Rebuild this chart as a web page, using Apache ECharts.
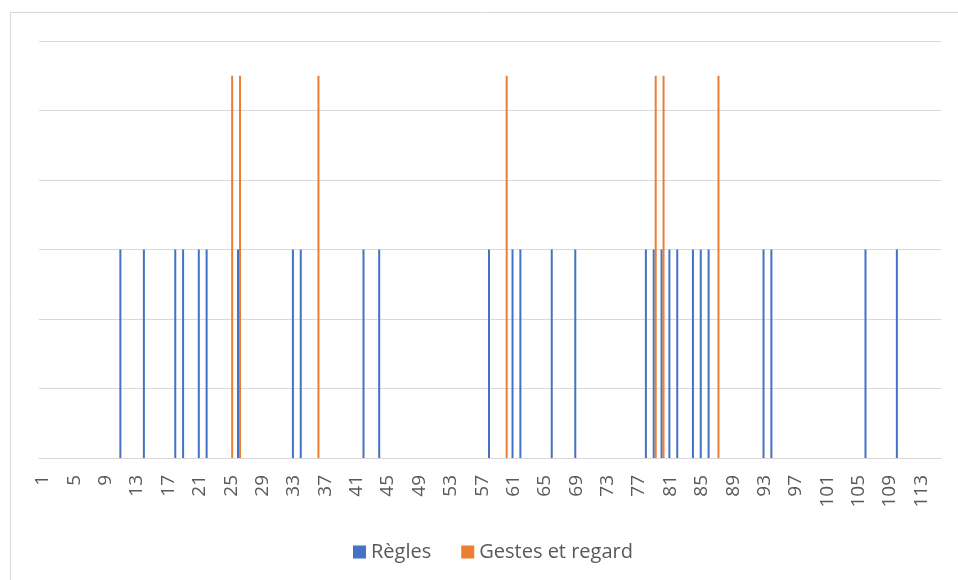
<!DOCTYPE html>
<html>
<head>
<meta charset="utf-8">
<script src="https://cdn.jsdelivr.net/npm/echarts@6/dist/echarts.min.js"></script>
<style>
  html, body { margin: 0; padding: 0; background: #fff; }
  #chart { width: 958px; height: 580px; }
</style>
</head>
<body>
<div id="chart"></div>
<script>
// séquence 1..115
var categories = [];
for (var i = 1; i <= 115; i++) categories.push(String(i));

var reglesPos = [11, 14, 18, 19, 21, 22, 26, 33, 34, 42, 44, 58, 61, 62, 66, 69,
                 78, 79, 80, 81, 82, 84, 85, 86, 93, 94, 106, 110];
var reglesVal = [3, 3, 3, 3, 3, 3, 3, 3, 3, 3, 3, 3, 3, 3, 3, 3,
                 3, 3, 3, 3, 3, 3, 3, 3, 3, 3, 3, 3];
var gestesPos = [25, 26, 36, 60, 79, 80, 87];
var gestesVal = [5.5, 5.5, 5.5, 5.5, 5.5, 5.5, 5.5];

function toSeries(pos, val) {
  var d = categories.map(function () { return null; });
  pos.forEach(function (p, k) { d[p - 1] = val[k]; });
  return d;
}

var dom = document.getElementById('chart');
var myChart = echarts.init(dom, null, { renderer: 'canvas' });

var option = {
  animation: false,
  backgroundColor: '#fff',
  graphic: [{
    type: 'rect',
    shape: { x: 10.5, y: 12.5, width: 1000, height: 1000 },
    style: { fill: 'none', stroke: '#d9d9d9', lineWidth: 1 },
    silent: true
  }],
  grid: { left: 39, right: 17, top: 41, bottom: 122 },
  legend: {
    data: ['Règles', 'Gestes et regard'],
    left: 348,
    top: 537,
    icon: 'rect',
    itemWidth: 13,
    itemHeight: 13,
    itemGap: 30,
    textStyle: { color: '#595959', fontSize: 20, fontFamily: 'Open Sans' }
  },
  xAxis: {
    type: 'category',
    data: categories,
    axisLine: { lineStyle: { color: '#d9d9d9', width: 1 } },
    axisTick: { show: false },
    axisLabel: {
      interval: 3,
      rotate: 90,
      margin: 17,
      color: '#595959',
      fontSize: 19,
      fontFamily: 'Open Sans'
    }
  },
  yAxis: {
    type: 'value',
    min: 0,
    max: 6,
    interval: 1,
    axisLabel: { show: false },
    axisLine: { show: false },
    axisTick: { show: false },
    splitLine: { lineStyle: { color: '#d9d9d9', width: 1 } }
  },
  series: [
    {
      name: 'Règles',
      type: 'bar',
      barWidth: 2,
      barGap: '0%',
      itemStyle: { color: '#4472C4' },
      data: toSeries(reglesPos, reglesVal)
    },
    {
      name: 'Gestes et regard',
      type: 'bar',
      barWidth: 2,
      itemStyle: { color: '#ED7D31' },
      data: toSeries(gestesPos, gestesVal)
    }
  ]
};

myChart.setOption(option);
window.addEventListener('resize', myChart.resize);
</script>
</body>
</html>
